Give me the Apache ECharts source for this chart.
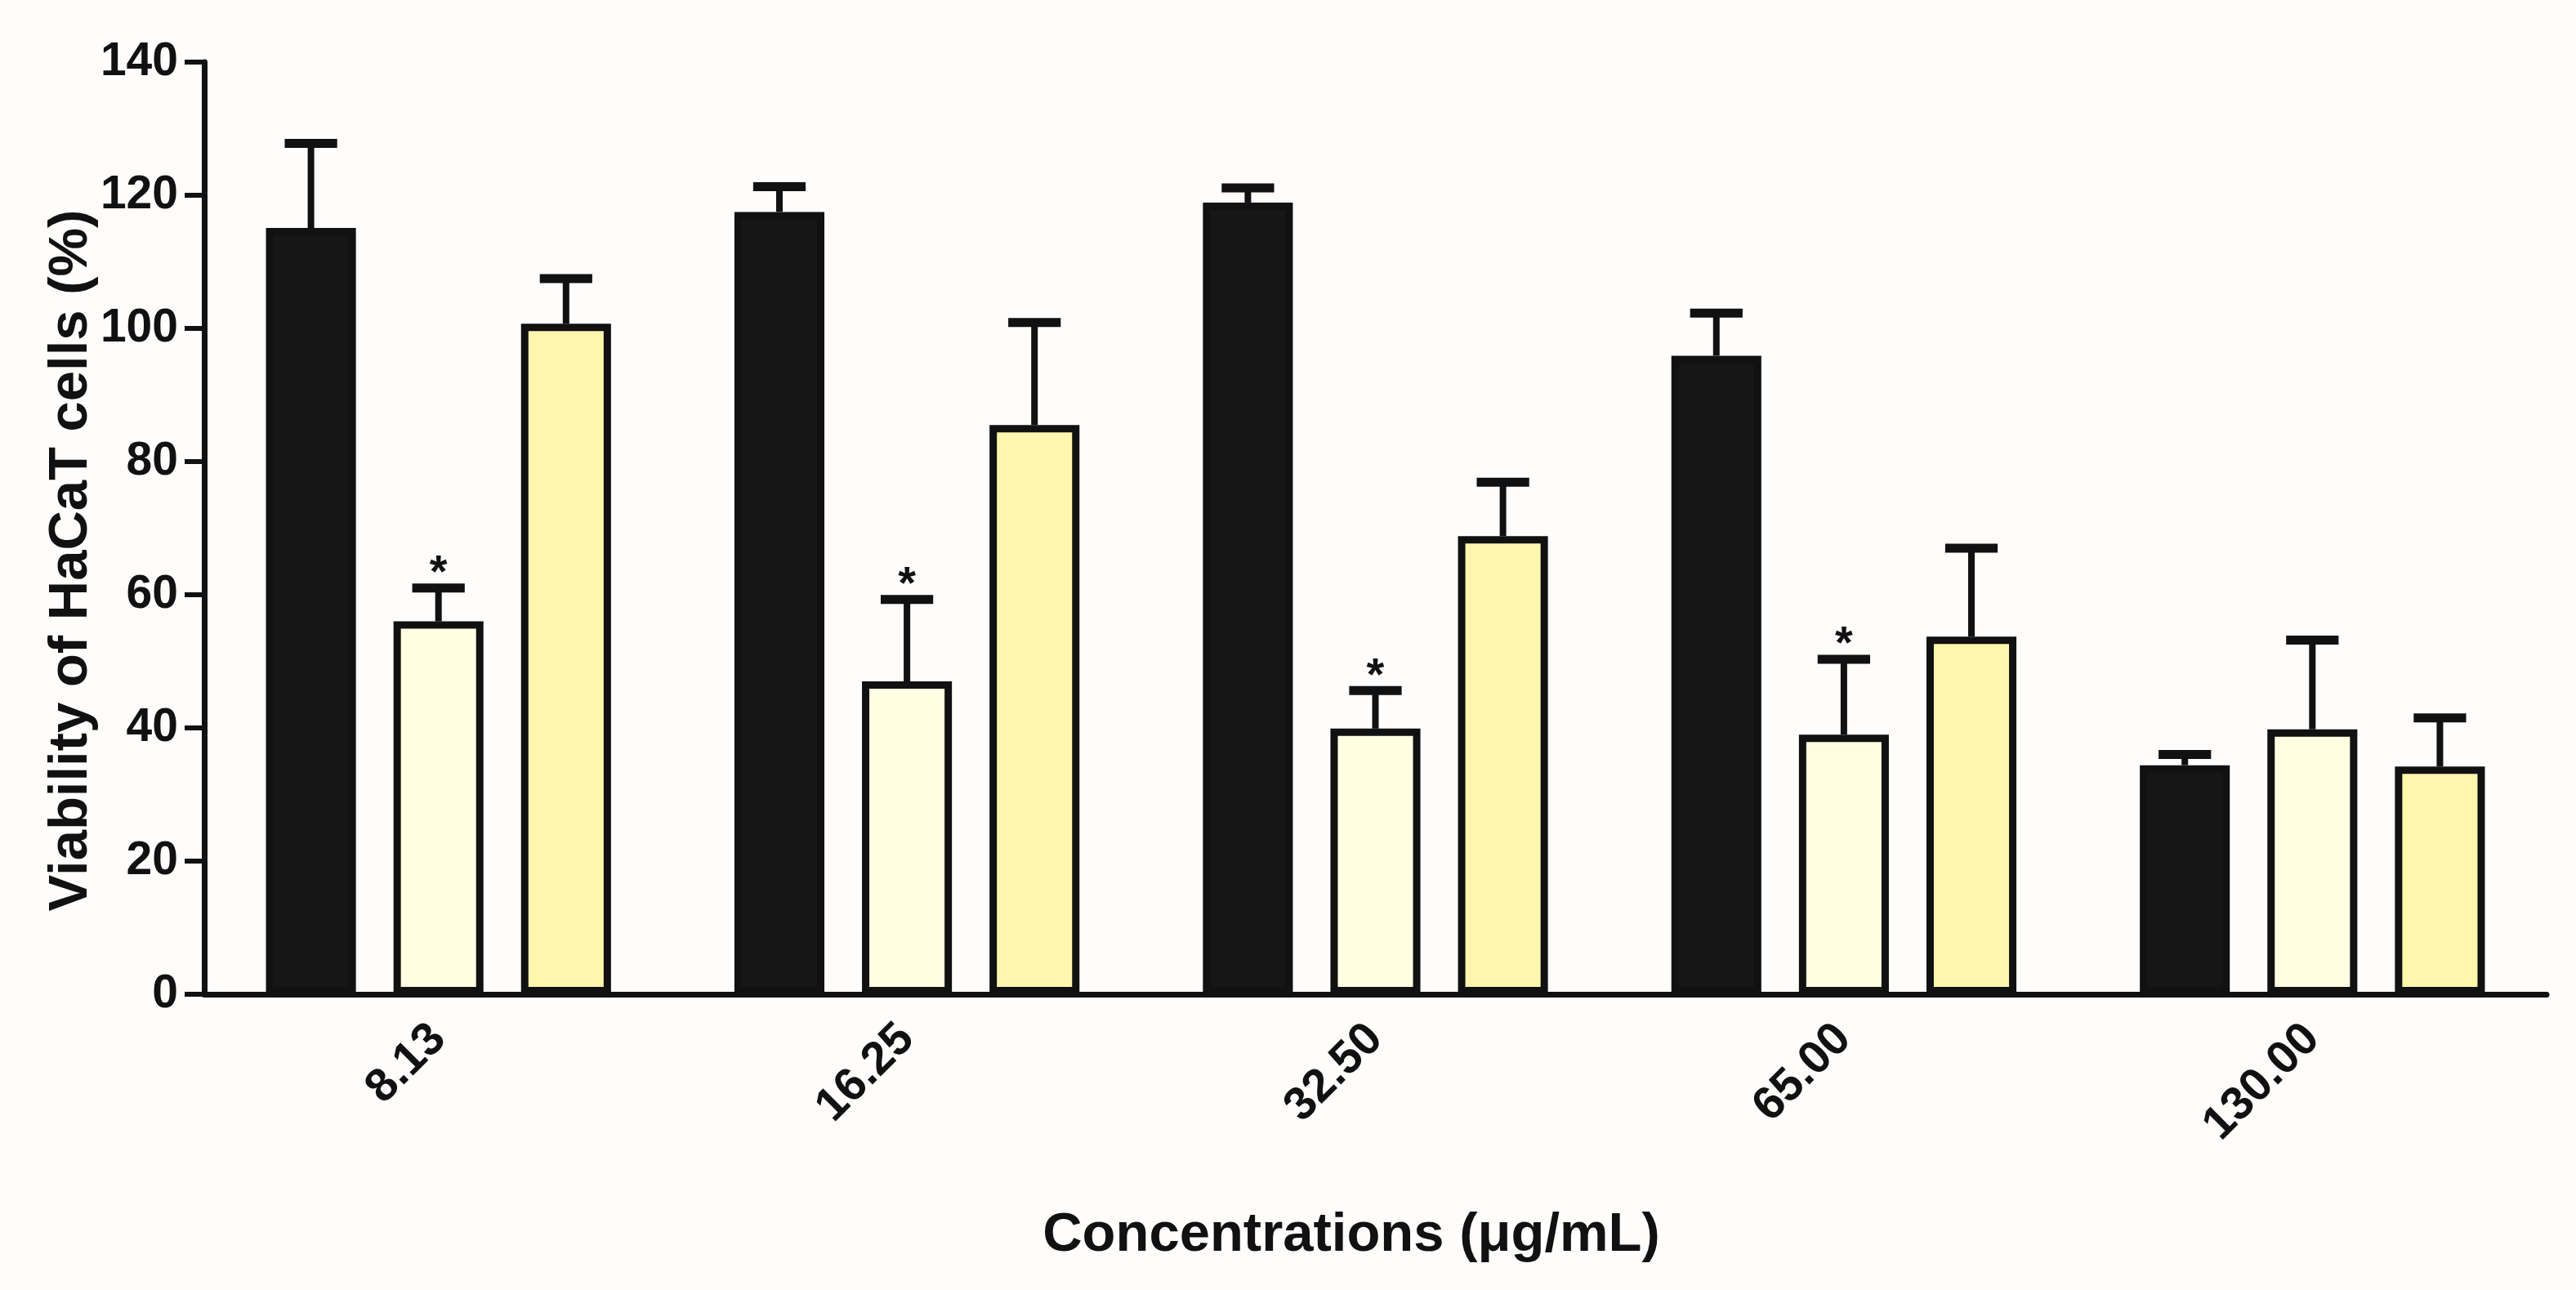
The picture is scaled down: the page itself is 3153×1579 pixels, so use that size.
<!DOCTYPE html>
<html>
<head>
<meta charset="utf-8">
<script src="https://cdn.jsdelivr.net/npm/echarts@6/dist/echarts.min.js"></script>
<style>
html,body{margin:0;padding:0;background:#fefdfb;}
#chart{width:3153px;height:1579px;}
</style>
</head>
<body>
<div id="chart"></div>
<script>
// ---- data ----
var categories = ['8.13', '16.25', '32.50', '65.00', '130.00'];
var yTicks = [0, 20, 40, 60, 80, 100, 120, 140];

var seriesANames = 'Series 1';
var seriesAMeans = [115.1, 117.5, 118.9, 95.9, 34.4];
var seriesASD    = [12.7, 3.8, 2.2, 6.4, 1.6];
var seriesASig   = [0, 0, 0, 0, 0];

var seriesBNames = 'Series 2';
var seriesBMeans = [56.0, 47.0, 39.9, 39.0, 39.8];
var seriesBSD    = [5.0, 12.3, 5.7, 11.3, 13.4];
var seriesBSig   = [1, 1, 1, 1, 0];

var seriesCNames = 'Series 3';
var seriesCMeans = [100.7, 85.5, 68.8, 53.7, 34.2];
var seriesCSD    = [6.8, 15.4, 8.1, 13.3, 7.3];
var seriesCSig   = [0, 0, 0, 0, 0];

// ---- style ----
var FONT = 'Liberation Sans, Arial, sans-serif';
var INK = '#111111';
var BAR_W = 0.192;   // fraction of category band (outer width, border drawn inside)
var BAR_GAP = 0.418; // relative to bar width
var colors = ['#161616', '#fffde2', '#fff6ae'];

function errData(means, sd, sig) {
  return means.map(function (m, i) { return [i, m, sd[i], sig[i]]; });
}

function makeErrSeries(k, means, sd, sig) {
  return {
    type: 'custom',
    z: 5,
    silent: true,
    encode: { x: 0, y: 1 },
    data: errData(means, sd, sig),
    renderItem: function (params, api) {
      var ci = api.value(0), mean = api.value(1), s = api.value(2), star = api.value(3);
      var band = api.size([1, 0])[0];
      var off = (k - 1) * band * BAR_W * (1 + BAR_GAP);
      var base = api.coord([ci, mean]);
      var top = api.coord([ci, mean + s]);
      var x = base[0] + off;
      var capHalf = band * 0.056;
      var children = [
        { type: 'line', shape: { x1: x, y1: base[1], x2: x, y2: top[1] },
          style: { stroke: INK, lineWidth: 8 } },
        { type: 'line', shape: { x1: x - capHalf, y1: top[1], x2: x + capHalf, y2: top[1] },
          style: { stroke: INK, lineWidth: 11 } }
      ];
      if (star) {
        children.push({ type: 'text',
          style: { text: '*', x: x, y: top[1] - 45, fill: INK, fontSize: 56, fontWeight: 'bold',
                   fontFamily: FONT, align: 'center', verticalAlign: 'top' } });
      }
      return { type: 'group', children: children };
    }
  };
}

function makeBar(name, means, color) {
  return {
    name: name,
    type: 'bar',
    data: means,
    barWidth: (BAR_W * 100) + '%',
    barGap: (BAR_GAP * 100) + '%',
    itemStyle: { color: color, borderColor: INK, borderWidth: 9 },
    z: 2
  };
}

var chart = echarts.init(document.getElementById('chart'), null, { renderer: 'canvas' });
chart.setOption({
  backgroundColor: '#fefdfb',
  animation: false,
  grid: { left: 250, right: 36, top: 76, bottom: 362, containLabel: false },
  xAxis: {
    type: 'category',
    data: categories,
    axisLine: { lineStyle: { color: INK, width: 7 } },
    axisTick: { alignWithLabel: true, length: 22, lineStyle: { color: INK, width: 6 } },
    axisLabel: { rotate: 45, interval: 0, margin: 46, fontSize: 57, fontWeight: 'bold', color: INK, fontFamily: FONT },
    splitLine: { show: false }
  },
  yAxis: {
    type: 'value',
    min: yTicks[0],
    max: yTicks[yTicks.length - 1],
    interval: yTicks[1] - yTicks[0],
    axisLine: { show: true, lineStyle: { color: INK, width: 7 } },
    axisTick: { show: true, length: 24, lineStyle: { color: INK, width: 6 } },
    axisLabel: { margin: 32, fontSize: 57, fontWeight: 'bold', color: INK, fontFamily: FONT },
    splitLine: { show: false }
  },
  graphic: [
    { type: 'text', x: 88, y: 686, rotation: Math.PI / 2,
      style: { text: 'Viability of HaCaT cells (%)', fill: INK, fontSize: 67, fontWeight: 'bold',
               fontFamily: FONT, align: 'center', verticalAlign: 'middle' } },
    { type: 'text', x: 1654, y: 1513,
      style: { text: 'Concentrations (μg/mL)', fill: INK, fontSize: 67, fontWeight: 'bold',
               fontFamily: FONT, align: 'center', verticalAlign: 'middle' } }
  ],
  series: [
    makeBar(seriesANames, seriesAMeans, colors[0]),
    makeBar(seriesBNames, seriesBMeans, colors[1]),
    makeBar(seriesCNames, seriesCMeans, colors[2]),
    makeErrSeries(0, seriesAMeans, seriesASD, seriesASig),
    makeErrSeries(1, seriesBMeans, seriesBSD, seriesBSig),
    makeErrSeries(2, seriesCMeans, seriesCSD, seriesCSig)
  ]
});
</script>
</body>
</html>
